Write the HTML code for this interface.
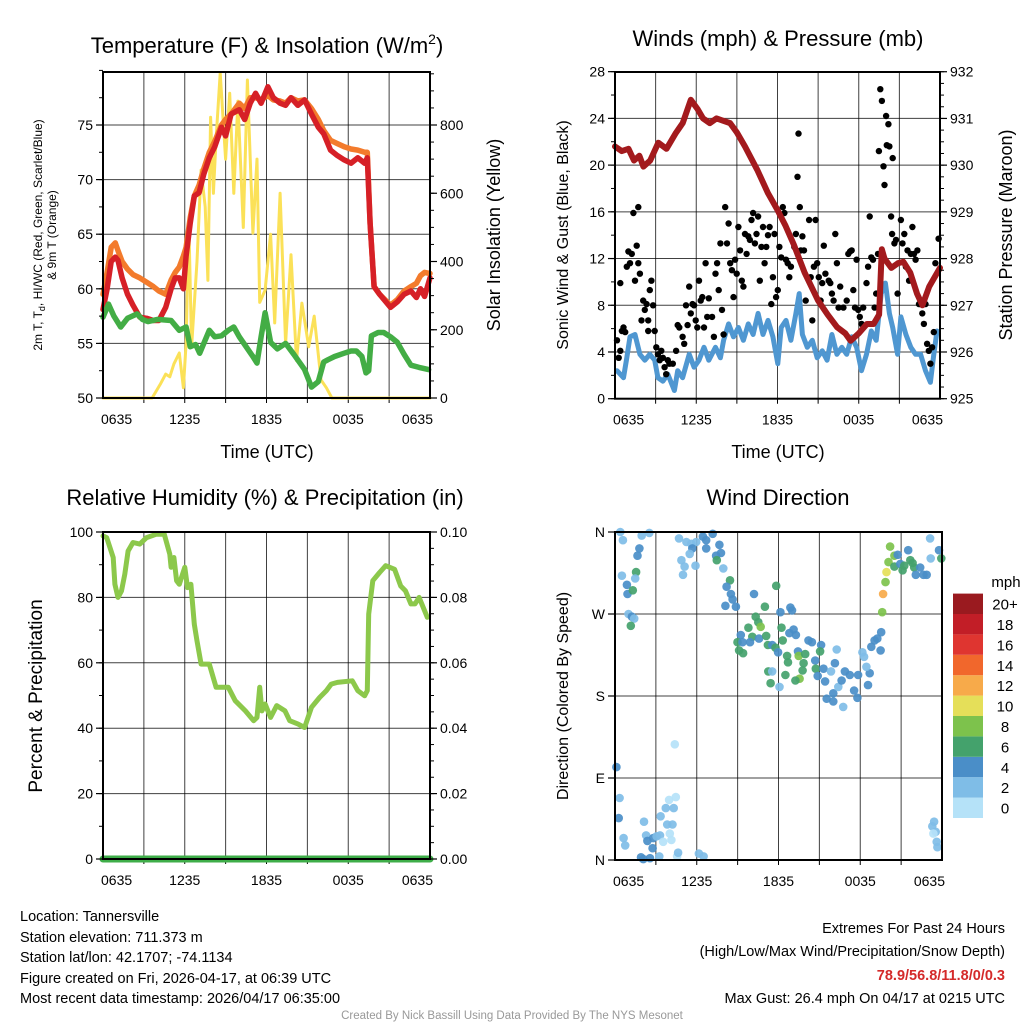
<!DOCTYPE html>
<html><head><meta charset="utf-8"><style>
body{margin:0;background:#fff}
svg{display:block;font-family:"Liberation Sans",Arial,sans-serif}
</style></head><body>
<svg id="c" width="1024" height="1024" viewBox="0 0 1024 1024" xmlns="http://www.w3.org/2000/svg">
<rect width="1024" height="1024" fill="#fff"/>
<g id="layer"></g>
<text x="267" y="53" font-size="22" text-anchor="middle">Temperature (F) &amp; Insolation (W/m<tspan font-size="14" dy="-9">2</tspan><tspan dy="9">)</tspan></text>
<text x="778" y="46" font-size="22" text-anchor="middle">Winds (mph) &amp; Pressure (mb)</text>
<text x="265" y="505" font-size="22" text-anchor="middle">Relative Humidity (%) &amp; Precipitation (in)</text>
<text x="778" y="505" font-size="22" text-anchor="middle">Wind Direction</text>
<text x="267" y="458" font-size="18" text-anchor="middle">Time (UTC)</text>
<text x="778" y="458" font-size="18" text-anchor="middle">Time (UTC)</text>
<text transform="translate(42,235) rotate(-90)" font-size="12" text-anchor="middle">2m T, T<tspan font-size="9" dy="3">d</tspan><tspan dy="-3">, HI/WC (Red, Green, Scarlet/Blue)</tspan></text>
<text transform="translate(56,235) rotate(-90)" font-size="12" text-anchor="middle">&amp; 9m T (Orange)</text>
<text transform="translate(500,235) rotate(-90)" font-size="18" text-anchor="middle">Solar Insolation (Yellow)</text>
<text transform="translate(568,235) rotate(-90)" font-size="16" text-anchor="middle">Sonic Wind &amp; Gust (Blue, Black)</text>
<text transform="translate(1012,235) rotate(-90)" font-size="18" text-anchor="middle">Station Pressure (Maroon)</text>
<text transform="translate(42,696) rotate(-90)" font-size="19" text-anchor="middle">Percent &amp; Precipitation</text>
<text transform="translate(568,696) rotate(-90)" font-size="16" text-anchor="middle">Direction (Colored By Speed)</text>
<g font-size="14.5">
<text x="20" y="921">Location: Tannersville</text>
<text x="20" y="942">Station elevation: 711.373 m</text>
<text x="20" y="962">Station lat/lon: 42.1707; -74.1134</text>
<text x="20" y="983">Figure created on Fri, 2026-04-17, at 06:39 UTC</text>
<text x="20" y="1003">Most recent data timestamp: 2026/04/17 06:35:00</text>
</g>
<g font-size="14.5" text-anchor="end">
<text x="1005" y="933">Extremes For Past 24 Hours</text>
<text x="1005" y="956">(High/Low/Max Wind/Precipitation/Snow Depth)</text>
<text x="1005" y="980" font-weight="bold" fill="#d42a2a">78.9/56.8/11.8/0/0.3</text>
<text x="1005" y="1003">Max Gust: 26.4 mph On 04/17 at 0215 UTC</text>
</g>
<text x="512" y="1019" font-size="11.5" fill="#999" text-anchor="middle">Created By Nick Bassill Using Data Provided By The NYS Mesonet</text>
</svg>
<script>
// ---- Temperature panel data (hours since 0635 UTC) ----
const tempT=[0,0.3,0.6,0.9,1.1,1.4,1.8,2.2,2.7,3.2,3.7,4.1,4.6,5.0,5.3,5.6,5.9,6.1,6.4,6.7,7.05,7.4,7.8,8.2,8.7,9.0,9.4,10,10.4,10.8,11.2,11.6,12.1,12.5,13,13.4,13.8,14.3,14.8,15.3,15.8,16.2,16.7,17.2,17.7,18.2,18.7,19.2,19.4,19.6,19.9,20.3,21.1,21.6,22.1,22.6,23,23.3,23.6,24];
const temp2m=[58.1,60,62.5,62.9,62.6,61,59.5,58.5,57.4,57.3,57.1,57.1,58.3,60,61,61,60,63,66,68.5,68.8,70.5,72,73,74.8,74,76,76.4,75.5,77,77.9,77,78.5,77.5,77,76.8,77.5,76.8,77.3,76,74.8,74.2,72.7,72.2,71.8,71.5,72,71.5,72,66,60.2,59.5,58.3,58.8,59.5,59.8,59.2,60,59.3,61];
const temp9m=[59.5,61.5,63.8,64.2,63.5,62.5,61.8,61.3,61,60.6,60.2,59.8,59.5,60.8,61.5,62,63,63.8,66.5,68.5,69.5,71,72.5,73.5,75,75.5,76,77,76.5,77.5,77.5,77.3,77.7,77.3,77.2,77,77.5,77.2,77.3,76.5,75.5,74.5,73.6,73.3,73,72.8,72.7,72.5,72.5,66,60.2,59.5,58.5,59,59.8,60.2,60.5,61.2,61.5,61.4];
const dewT=[0,0.4,0.8,1.3,1.8,2.5,2.9,3.3,4,5,5.6,6.1,6.4,6.8,7.1,7.5,7.8,8.2,8.7,9.2,9.6,10,10.5,11,11.3,11.6,11.9,12.3,12.8,13.4,14,14.8,15.3,15.8,16.2,16.5,17,17.7,18.2,18.6,19,19.3,19.5,19.7,20.2,20.6,21.1,21.6,22.1,22.6,23.2,23.9];
const dewpt=[57.4,58.6,57.5,56.5,57.3,57.7,57.2,57,57.2,57.1,56.2,56.5,54.7,54.9,54.1,55.3,56.2,55.6,55.7,56.2,56.5,55.6,54.7,53.8,53.2,55.6,57.8,55.1,54.5,55,54,52.6,51,51.5,53.3,53.5,53.8,54.1,54.3,54.3,53.8,52.3,52.5,55.7,56,56,55.6,55.1,54,53,52.8,52.6];
const solT=[0,3.6,4.2,4.6,4.9,5.2,5.6,5.9,6.1,6.3,6.5,6.9,7.2,7.5,7.7,7.9,8.1,8.3,8.6,9,9.3,9.6,9.9,10.3,10.6,11,11.3,11.5,11.9,12.3,12.6,13,13.4,13.8,14.2,14.6,15.1,15.5,16,16.4,16.8,24];
const solar=[0,0,40,70,62,100,132,30,160,520,150,400,668,560,345,823,600,760,952,700,893,600,870,500,932,483,700,280,316,480,220,600,160,420,110,278,150,240,53,30,0,0];
const tempTicks=[50,55,60,65,70,75];
const solTicks=[0,200,400,600,800];
const timeLabels=["0635","1235","1835","0035","0635"];
// ---- Wind panel data ----
const presT=[0,0.5,1,1.4,1.8,2.1,2.6,3.2,3.8,4.5,5,5.6,6.1,6.5,7,7.5,8,8.5,9,9.6,10.5,11.3,12,12.6,13.2,14,15,15.7,16.4,17,17.4,18,18.6,19.1,19.5,19.7,19.9,20.4,20.9,21.3,21.8,22.3,22.7,23.2,24];
const pressure=[930.4,930.3,930.35,930.1,930.2,929.97,930.1,930.48,930.35,930.69,930.9,931.4,931.2,931.0,930.9,931.0,930.95,930.9,930.7,930.4,929.9,929.4,929.04,928.7,928.3,927.7,927.1,926.8,926.53,926.4,926.24,926.4,926.6,926.6,926.8,928.2,928.0,927.8,927.9,927.93,927.7,927.25,927.0,927.4,927.8];
const windT=[0.15,0.63,0.87,1.11,1.48,1.84,2.20,2.57,2.93,3.17,3.54,3.90,4.39,4.63,4.99,5.48,5.84,6.20,6.57,6.93,7.42,7.78,8.02,8.39,8.75,9.11,9.48,9.84,10.20,10.57,10.93,11.30,11.66,12.02,12.27,12.63,12.99,13.36,13.60,13.84,14.20,14.57,14.93,15.30,15.66,16.02,16.39,16.75,17.11,17.48,17.84,18.20,18.57,18.93,19.29,19.66,19.97,20.26,20.51,20.87,21.11,21.48,21.84,22.20,22.57,22.93,23.29,23.54,23.78];
const windSpd=[2.4,1.8,3.5,5.3,5.5,3.8,3.3,3.8,3.3,1.8,1.5,2.1,0.7,2.4,1.8,3.8,2.7,3.3,4.4,3.3,4.4,3.5,5.0,6.4,5.3,6.1,5.0,6.4,5.5,7.3,5.5,6.7,5.3,3.0,6.1,6.7,5.0,7.3,9.0,5.5,4.4,5.0,3.5,4.1,3.3,5.5,3.8,4.4,3.8,5.3,4.4,2.4,3.8,5.8,5.0,9.0,9.9,7.3,6.1,3.8,7.0,5.5,4.4,3.8,3.8,2.4,1.4,3.8,5.8];
const gustT=[0.15,0.27,0.39,0.51,0.63,0.75,0.39,0.87,0.99,1.11,1.24,1.36,1.48,1.60,1.72,1.72,1.84,1.96,2.08,2.20,2.33,2.45,2.45,2.57,2.69,2.81,2.93,3.05,3.17,3.30,3.42,3.54,3.66,3.78,3.90,4.02,4.27,4.51,4.63,4.75,4.99,5.11,5.24,5.36,5.48,5.60,5.72,5.84,5.96,6.08,6.20,6.33,6.45,6.57,6.69,6.81,6.93,7.17,7.30,7.42,7.54,7.66,7.78,7.90,8.02,8.14,8.27,8.39,8.51,8.63,8.75,8.87,8.99,9.11,9.24,9.36,9.48,9.60,9.72,9.84,9.96,10.08,10.20,10.33,10.45,10.57,10.69,10.81,10.93,11.05,11.17,11.30,11.42,11.54,11.66,11.78,11.90,12.02,12.14,12.27,12.39,12.51,12.63,12.75,12.87,12.99,13.24,13.36,13.48,13.55,13.65,13.72,13.84,13.96,14.08,14.33,14.45,14.57,14.69,14.81,14.93,15.05,15.18,15.30,15.42,15.54,15.78,15.90,16.02,16.14,16.27,16.39,16.51,16.63,16.87,17.11,17.23,17.36,17.48,17.60,17.72,17.84,17.96,18.08,18.20,18.33,18.57,18.69,18.81,18.93,19.05,19.17,19.29,19.42,19.49,19.59,19.71,19.83,19.90,20.02,20.07,20.19,20.26,20.39,20.46,20.51,20.63,20.75,20.87,21.11,21.23,21.36,21.48,21.60,21.72,21.84,21.96,22.08,22.20,22.33,22.45,22.57,22.69,22.81,22.93,23.05,23.17,23.29,23.42,23.54,23.66,23.90];
const gustSpd=[5.0,3.5,4.1,5.8,6.1,5.7,9.9,11.3,12.6,11.6,12.4,15.9,10.1,13.1,16.4,11.6,10.7,6.7,8.4,7.6,8.1,6.7,5.8,9.3,10.1,8.0,5.8,4.4,3.8,3.3,4.1,3.5,2.7,2.1,3.3,3.0,3.0,4.1,6.3,6.1,5.3,4.7,8.0,6.3,9.6,7.3,8.1,8.0,6.7,6.1,10.1,8.4,8.7,6.1,11.6,7.0,8.6,7.0,5.3,10.7,11.6,9.3,13.3,7.6,5.5,16.4,13.3,15.0,11.6,11.0,8.7,11.9,10.7,14.7,12.7,10.1,9.6,14.1,12.4,13.9,13.6,15.3,15.9,13.3,14.1,15.6,10.1,13.0,14.7,11.6,13.0,14.0,14.7,8.1,10.4,14.1,8.7,9.3,13.0,12.1,16.4,15.9,11.9,11.6,10.4,11.3,13.0,14.1,19.0,22.7,16.4,12.7,13.9,12.7,8.4,15.3,10.4,6.7,11.3,15.3,11.6,10.4,8.4,9.9,13.1,10.7,10.1,9.9,9.0,8.4,14.1,11.6,7.8,9.6,7.8,8.4,12.4,12.6,12.7,9.3,7.8,11.9,7.6,7.0,6.4,7.8,9.9,11.3,15.6,12.1,11.9,7.8,9.0,12.4,21.2,26.5,25.5,19.9,18.3,24.2,21.7,23.5,21.6,15.6,14.1,20.6,13.3,13.6,9.0,15.3,13.3,14.1,11.3,12.7,10.1,12.4,14.7,12.4,11.9,12.7,8.1,8.1,7.3,6.4,8.1,4.7,4.1,3.0,4.4,5.7,11.6,13.7];
const windTicks=[0,4,8,12,16,20,24,28];
const presTicks=[925,926,927,928,929,930,931,932];
// ---- Humidity panel data ----
const rhT=[0,0.27,0.51,0.75,0.87,1.1,1.36,1.6,1.84,2.2,2.7,3.2,3.9,4.5,4.9,5.0,5.2,5.4,5.6,6.0,6.2,6.45,6.7,6.9,7.2,7.5,7.8,8.3,8.75,9.2,9.7,10.45,11.05,11.3,11.5,11.66,11.9,12.3,12.75,13.36,13.7,14.3,14.8,15.3,15.9,16.4,16.75,17.2,18.3,18.7,19.2,19.4,19.5,19.8,20.3,20.75,21.4,21.85,22.2,22.6,22.9,23.2,23.4,23.8];
const rh=[98.8,98.3,95.3,92.2,84,80,82,87.1,94.2,96.8,96.3,98.3,99.3,99.3,93.2,89.2,92.2,85.1,84,89.2,83,84,71.8,66.7,59.6,59.6,59.6,52.5,52.5,52.5,48.4,45.3,42.3,43.3,52.5,45.3,47.4,43.3,46.9,45.3,42.3,41.3,40.2,46.4,49.4,51.5,53.5,54,54.5,51.5,49.9,51.5,74.9,85.1,87.6,89.7,88.6,83.5,82,78,78,80,78,73.9];
const precipT=[0,24];
const precip=[0,0];
const rhTicks=[0,20,40,60,80,100];
const precipTicks=["0.00","0.02","0.04","0.06","0.08","0.10"];
// ---- Wind direction data ----
const dirT=[0.39,0.58,1.96,2.52,1.79,1.65,0.51,1.55,1.48,0.87,0.92,1.31,0.99,1.24,1.41,1.16,4.70,5.24,5.60,5.96,6.45,6.69,7.17,5.67,5.48,4.87,5.11,4.99,5.91,6.69,7.42,7.78,7.66,7.47,7.95,8.44,8.19,8.51,8.63,8.10,8.87,10.20,11.83,11.00,10.33,10.52,10.69,9.79,9.23,10.08,8.99,9.36,9.11,9.40,9.91,10.57,11.10,11.22,11.54,11.78,11.97,12.14,12.99,12.87,12.22,12.31,12.80,13.11,13.28,12.63,12.70,12.51,13.43,13.48,13.96,13.84,13.77,13.55,13.24,14.20,14.45,14.69,15.13,15.05,14.74,14.88,15.30,15.42,15.54,16.02,16.02,15.85,16.14,16.39,16.27,16.75,16.63,16.87,17.23,17.55,17.79,17.84,18.69,18.57,18.45,11.42,11.25,11.54,12.07,18.16,18.28,18.81,19.05,19.25,19.49,19.54,19.61,19.68,19.85,19.93,20.07,20.19,20.51,20.75,20.51,20.94,21.11,21.23,21.52,21.67,21.84,21.96,22.08,22.40,22.64,22.88,23.13,23.17,23.78,23.95,0.10,0.34,0.27,0.63,0.75,2.13,2.28,2.38,2.76,2.81,3.05,3.30,3.54,3.35,3.73,3.97,4.46,4.31,3.83,4.22,4.02,4.14,1.91,2.08,2.57,3.25,4.56,4.63,6.16,6.50,4.39,23.42,23.29,23.54,23.37,23.61,23.66];
const dirDeg=[360,351,356,359,342,334,312,316,309,302,292,296,270,267,265,257,353,349,347,349,355,351,358,342,336,329,322,313,323,342,334,337,346,329,320,307,300,292,286,279,278,292,301,278,267,261,256,255,247,245,239,239,230,227,239,243,246,236,236,233,228,272,274,277,255,241,249,253,247,224,217,203,229,224,226,216,208,199,197,241,239,219,236,229,210,202,210,196,177,174,183,207,216,190,231,168,197,207,203,186,178,203,205,192,212,194,207,207,190,228,223,234,241,243,230,250,272,292,305,316,327,344,334,335,322,325,318,323,340,329,326,321,313,321,313,313,353,331,340,331,102,68,46,24,16,42,27,21,13,24,26,27,20,48,57,66,69,57,39,39,29,22,3,1,2,4,4,8,7,4,127,42,37,31,29,20,14];
const dirSpd=[3,3,3,3,5,5,3,7,3,5,5,7,3,5,3,7,3,3,3,3,5,5,5,5,3,3,3,3,3,5,5,5,5,7,3,7,5,5,5,5,5,5,7,7,7,7,9,7,5,7,7,5,7,7,5,5,7,7,5,7,5,5,5,5,7,7,5,5,5,7,7,7,5,9,7,7,7,9,7,5,5,5,5,7,7,5,5,5,5,5,5,3,5,3,3,3,5,5,5,5,5,5,5,5,3,7,7,3,3,3,3,5,5,5,5,5,9,13,9,11,9,9,9,5,7,5,7,7,5,7,7,7,5,5,5,5,3,3,5,7,5,3,5,3,3,3,3,5,5,5,3,3,1,3,3,1,1,3,3,3,1,1,5,5,5,3,1,3,3,3,1,3,3,3,1,3,3];
const dirLabels=["N","E","S","W","N"];
const binLabels=["0","2","4","6","8","10","12","14","16","18","20+"];
const binColors=["#b5e2f8","#7fbde7","#4a8ec8","#44a26c","#7dc24c","#e5df59","#f7aa4a","#f1672c","#df3530","#c21e27","#9a1a1f"];

const NS="http://www.w3.org/2000/svg";
const layer=document.getElementById('layer');
function mk(tag,attrs,parent){const e=document.createElementNS(NS,tag);for(const k in attrs)e.setAttribute(k,attrs[k]);(parent||layer).appendChild(e);return e;}
function txt(x,y,s,size,anchor,parent){const e=mk('text',{x:x,y:y,'font-size':size,'text-anchor':anchor},parent);e.textContent=s;return e;}

function panel(name,x0,x1,y0,y1){
  const g=mk('g',{});
  
  
  return {g,x0,x1,y0,y1,xs:t=>x0+t/24*(x1-x0)};
}
function grid(p,yvals){
  for(let k=1;k<8;k++){const x=p.x0+k*(p.x1-p.x0)/8;const l=mk('line',{x1:x,x2:x,y1:p.y0,y2:p.y1,stroke:'#000','stroke-width':1,'stroke-opacity':0.75},p.g);
    
    
    const tk=mk('line',{x1:x,x2:x,y1:p.y1,y2:p.y1+5,stroke:'#000','stroke-width':1},p.g);
    
    }
  yvals.forEach(y=>{const l=mk('line',{x1:p.x0,x2:p.x1,y1:y,y2:y,stroke:'#000','stroke-width':1,'stroke-opacity':0.75},p.g);
    
    });
}
function frame(p){const r=mk('rect',{x:p.x0,y:p.y0,width:p.x1-p.x0,height:p.y1-p.y0,fill:'none',stroke:'#000','stroke-width':2},p.g);
  
  }
function xLabels(p){
  const g=mk('g',{'font-size':14},p.g);
  
  
  timeLabels.forEach((s,i)=>{const x=p.x0+i*(p.x1-p.x0)/4;const a=i==0?'start':(i==4?'end':'middle');
    const t=txt(i==0?p.x0-2:(i==4?p.x1+3:x),p.y1+26,s,14,a,g);
    
    });
}
function yAxis(p,vals,ys,labels,side,minorYs,name){
  const g=mk('g',{},p.g);
  
  
  const x=side=='left'?p.x0:p.x1;const d=side=='left'?-1:1;
  minorYs.forEach(y=>mk('line',{x1:x,x2:x+d*4,y1:y,y2:y,stroke:'#000','stroke-width':1},g));
  vals.forEach((v,i)=>{const y=ys(v);mk('line',{x1:x,x2:x+d*7,y1:y,y2:y,stroke:'#000','stroke-width':1.2},g);
    const t=txt(x+d*10,y+5,labels[i],14,side=='left'?'end':'start',g);
    
    });
}
function line(p,T,V,ys,color,w,name){
  const d=T.map((t,i)=>(i?'L':'M')+p.xs(t).toFixed(1)+','+ys(V[i]).toFixed(1)).join('');
  const e=mk('path',{d:d,fill:'none',stroke:color,'stroke-width':w,'stroke-linejoin':'round','stroke-linecap':'round'},p.g);
  
  
}
function range(a,b,s){const r=[];for(let v=a;v<=b+1e-9;v+=s)r.push(v);return r;}

// ---- Panel 1: Temperature ----
const p1=panel('temperature-chart',103,430,72,398);
const yT=v=>398-(v-50)*10.92, yS=v=>398-v*0.34125;
grid(p1,tempTicks.slice(1).map(yT));
line(p1,solT,solar,yS,'#fbe158',3,'solar-insolation-line');
line(p1,tempT,temp9m,yT,'#f37b2c',5.5,'temp-9m-line');
line(p1,tempT,temp2m,yT,'#d62027',5.5,'temp-2m-line');
line(p1,dewT,dewpt,yT,'#43ad45',5.5,'dewpoint-line');
frame(p1);
yAxis(p1,tempTicks,yT,tempTicks.map(String),'left',range(50,80,2.5).map(yT),'temp-y-axis');
yAxis(p1,solTicks,yS,solTicks.map(String),'right',range(0,950,50).map(yS),'solar-y-axis');
xLabels(p1);

// ---- Panel 2: Wind ----
const p2=panel('wind-chart',615,940,72,398.7);
const yW=v=>398.7-v*11.68, yP=v=>398.7-(v-925)*46.71;
grid(p2,windTicks.slice(1,-1).map(yW));
line(p2,windT,windSpd,yW,'#4f97d1',5,'sonic-wind-line');
gustT.forEach((t,i)=>{const c=mk('circle',{cx:p2.xs(t).toFixed(1),cy:yW(gustSpd[i]).toFixed(1),r:3.2,fill:'#000'},p2.g);
  
  });
line(p2,presT,pressure,yP,'#a31a1d',6,'pressure-line');
frame(p2);
yAxis(p2,windTicks,yW,windTicks.map(String),'left',range(0,28,2).map(yW),'wind-y-axis');
yAxis(p2,presTicks,yP,presTicks.map(String),'right',range(925,932,0.25).map(yP),'pressure-y-axis');
xLabels(p2);

// ---- Panel 3: Humidity ----
const p3=panel('humidity-chart',103,430,532,859);
const yR=v=>859-v*3.27, yPr=v=>859-v*3270;
grid(p3,rhTicks.slice(1,-1).map(yR));
line(p3,rhT,rh,yR,'#8cc84b',5,'relative-humidity-line');
line(p3,precipT,precip,yPr,'#3fae49',7,'precipitation-line');
frame(p3);
yAxis(p3,rhTicks,yR,rhTicks.map(String),'left',range(0,100,10).map(yR),'humidity-y-axis');
yAxis(p3,rhTicks,yR,precipTicks,'right',range(0,100,5).map(yR),'precip-y-axis');
xLabels(p3);

// ---- Panel 4: Direction ----
const p4=panel('direction-chart',615,942,532,860);
const yD=v=>860-v/360*328;
grid(p4,[90,180,270].map(yD));
function bin(s){return Math.min(10,Math.floor(s/2));}
dirT.forEach((t,i)=>{const c=mk('circle',{cx:p4.xs(t).toFixed(1),cy:yD(dirDeg[i]).toFixed(1),r:4.3,fill:binColors[bin(dirSpd[i])],'fill-opacity':0.92},p4.g);
  
  });
frame(p4);
yAxis(p4,[0,90,180,270,360],yD,dirLabels,'left',[],'direction-y-axis');
xLabels(p4);
// colorbar
const cb=mk('g',{});


binColors.forEach((c,i)=>{const y=818-(i+1)*20.4;
  const r=mk('rect',{x:953,y:y,width:30,height:20.4,fill:c},cb);
  
  
  const t=txt(1005,y+16,binLabels[i],15,'middle',cb);
  
  });
const u=txt(1006,587,'mph',15,'middle',cb);


</script>
</body></html>
